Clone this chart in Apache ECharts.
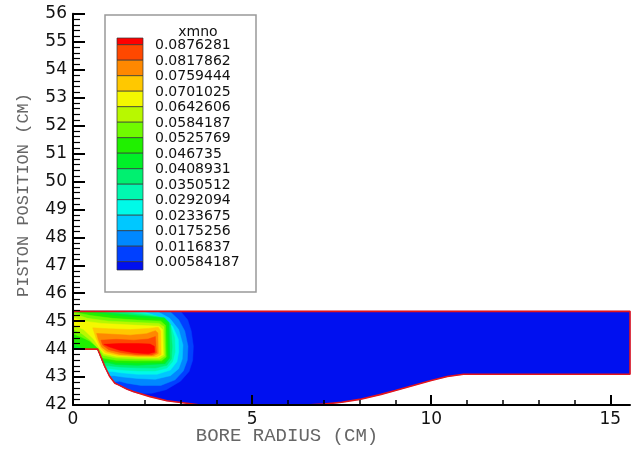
<!DOCTYPE html>
<html lang="en">
<head>
    <meta charset="UTF-8">
    <script src="https://cdn.jsdelivr.net/npm/echarts@6.0.0/dist/echarts.min.js"></script>
    <title>xmno</title>
    <style type="text/css">
        body { margin: 0; background: #fff; }
        #main { width: 640px; height: 449px; }
    </style>
</head>
<body>
<div id="main"></div>
<script type="text/javascript">
    // contour levels of xmno (legend, low -> high)
    const levels = [0.00584187, 0.0116837, 0.0175256, 0.0233675, 0.0292094, 0.0350512, 0.0408931,
        0.046735, 0.0525769, 0.0584187, 0.0642606, 0.0701025, 0.0759444, 0.0817862, 0.0876281];
    // band colours: below level 1 ... above level 15
    const bandColors = ['#0010f0', '#0040ff', '#0088ff', '#00c8ff', '#00fae8', '#00f8b0', '#00f070', '#00f028',
        '#20f000', '#70fa00', '#b8f800', '#f4f800', '#ffc800', '#ff8800', '#ff4800', '#ff0000'];

    const xMajor = [0, 5, 10, 15];
    const xMinor = [1, 2, 3, 4, 6, 7, 8, 9, 11, 12, 13, 14];

    // piston bowl outline (radius, position)
    const domain = [[0, 45.35], [15.55, 45.35], [15.55, 43.1], [10.9, 43.1], [10.45, 43.02], [10.0, 42.88],
        [9.5, 42.7], [9.0, 42.52], [8.6, 42.38], [8.0, 42.2], [7.5, 42.1], [7.0, 42.03], [6.5, 42.0],
        [3.55, 42.0], [3.18, 42.06], [2.62, 42.15], [2.15, 42.3], [1.68, 42.48], [1.5, 42.57], [1.27, 42.72],
        [1.17, 42.78], [1.03, 43.01], [0.89, 43.37], [0.69, 44], [0, 44]];

    // regions where xmno > level k
    const above1 = [[0, 45.35], [3.0, 45.35], [3.2, 45.05], [3.3, 44.65], [3.36, 44.1], [3.34, 43.6], [3.24, 43.2],
        [3.0, 42.85], [2.6, 42.55], [2.2, 42.42], [1.85, 42.415], [1.68, 42.48], [1.5, 42.57], [1.27, 42.72],
        [1.17, 42.78], [1.03, 43.01], [0.89, 43.37], [0.69, 44], [0, 44]];
    const above2 = [[0, 45.35], [2.7, 45.35], [2.95, 45.05], [3.12, 44.65], [3.21, 44.1], [3.19, 43.6], [3.08, 43.22],
        [2.85, 42.9], [2.45, 42.7], [1.9, 42.7], [1.5, 42.78], [1.3, 42.85], [1.14, 42.83], [1.03, 43.01],
        [0.89, 43.37], [0.69, 44], [0, 44]];
    const above3 = [[0, 45.35], [2.35, 45.35], [2.7, 45.1], [2.95, 44.7], [3.07, 44.15], [3.05, 43.65], [2.95, 43.3],
        [2.72, 43.05], [2.3, 42.92], [1.8, 42.95], [1.4, 43.0], [1.15, 43.05], [1.015, 43.05], [0.89, 43.37],
        [0.69, 44], [0, 44]];
    const above4 = [[0, 45.35], [1.95, 45.35], [2.45, 45.12], [2.78, 44.82], [2.94, 44.35], [2.95, 43.9], [2.9, 43.55],
        [2.72, 43.25], [2.35, 43.1], [1.8, 43.1], [1.35, 43.15], [1.1, 43.2], [0.956, 43.2], [0.89, 43.37],
        [0.69, 44], [0, 44]];
    const above5 = [[0, 45.35], [1.45, 45.35], [1.8, 45.31], [2.3, 45.2], [2.7, 44.95], [2.84, 44.4], [2.85, 43.9],
        [2.78, 43.55], [2.62, 43.32], [2.3, 43.22], [1.8, 43.22], [1.3, 43.26], [1.05, 43.3], [0.917, 43.3],
        [0.89, 43.37], [0.69, 44], [0, 44]];
    const above6 = [[0, 45.35], [1.0, 45.35], [1.5, 45.3], [1.8, 45.25], [2.4, 45.15], [2.72, 44.9], [2.77, 44.1],
        [2.75, 43.65], [2.62, 43.42], [2.3, 43.32], [1.8, 43.33], [1.3, 43.36], [1.0, 43.4], [0.88, 43.4],
        [0.69, 44], [0, 44]];
    const above7 = [[0, 45.35], [0.6, 45.35], [1.1, 45.28], [1.8, 45.19], [2.55, 45.12], [2.68, 44.95], [2.7, 43.68],
        [2.57, 43.48], [1.8, 43.42], [1.2, 43.45], [0.95, 43.52], [0.85, 43.5], [0.69, 44], [0, 44]];
    const above8 = [[0, 45.35], [0.25, 45.35], [0.7, 45.27], [1.2, 45.18], [1.8, 45.12], [2.5, 45.07], [2.62, 44.9],
        [2.65, 43.7], [2.52, 43.52], [1.8, 43.5], [1.2, 43.52], [0.9, 43.6], [0.8, 43.66], [0.69, 44],
        [0.35, 44.0], [0, 44.2]];
    const above9 = [[0, 45.33], [0.5, 45.2], [1.1, 45.1], [1.8, 45.04], [2.45, 45.0], [2.58, 44.85], [2.6, 43.72],
        [2.47, 43.58], [1.8, 43.58], [1.2, 43.6], [0.85, 43.68], [0.8, 43.72], [0.74, 43.9], [0.7, 44.04],
        [0.45, 44.3], [0.2, 44.45], [0, 44.55]];
    const above10 = [[0, 45.28], [0.4, 45.1], [1.0, 45.0], [1.8, 44.95], [2.4, 44.92], [2.54, 44.8], [2.56, 43.75],
        [2.42, 43.64], [1.8, 43.65], [1.2, 43.68], [0.84, 43.78], [0.74, 43.97], [0.5, 44.3], [0.25, 44.55],
        [0, 44.72]];
    const above11 = [[0, 45.12], [0.3, 45.0], [0.8, 44.92], [1.8, 44.85], [2.4, 44.82], [2.5, 44.7], [2.52, 43.8],
        [2.38, 43.7], [1.8, 43.71], [1.2, 43.74], [0.86, 43.84], [0.76, 44.0], [0.58, 44.35], [0.3, 44.7],
        [0, 44.86]];
    const above12 = [[0.55, 44.76], [1.0, 44.73], [1.6, 44.7], [2.1, 44.74], [2.38, 44.78], [2.45, 44.65],
        [2.46, 43.8], [2.32, 43.72], [1.8, 43.73], [1.25, 43.77], [0.9, 43.87], [0.77, 44.03], [0.64, 44.4]];
    const above13 = [[0.66, 44.56], [1.0, 44.54], [1.6, 44.5], [2.05, 44.55], [2.3, 44.66], [2.37, 44.58],
        [2.38, 43.84], [2.25, 43.76], [1.8, 43.76], [1.3, 43.81], [0.95, 43.92], [0.8, 44.07], [0.71, 44.33]];
    const above14 = [[0.78, 44.32], [1.2, 44.35], [1.7, 44.32], [2.1, 44.36], [2.3, 44.45], [2.33, 43.87],
        [2.2, 43.79], [1.8, 43.8], [1.35, 43.87], [1.0, 43.98], [0.83, 44.14]];
    const above15 = [[0.86, 44.17], [1.3, 44.2], [1.8, 44.2], [2.15, 44.18], [2.27, 44.1], [2.28, 43.89],
        [2.1, 43.83], [1.7, 43.87], [1.3, 43.96], [1.0, 44.08]];

    const shapes = [domain, above1, above2, above3, above4, above5, above6, above7, above8,
        above9, above10, above11, above12, above13, above14, above15];

    const myChart = echarts.init(document.getElementById('main'));

    // colour legend drawn as graphic elements
    const legendBox = [{
        type: 'rect', shape: {x: 105, y: 15, width: 151, height: 277},
        style: {fill: '#fff', stroke: '#999', lineWidth: 1.5}
    }, {
        type: 'text', x: 198, y: 32,
        style: {text: 'xmno', font: '14px "DejaVu Sans"', fill: '#111', align: 'center', verticalAlign: 'middle'}
    }];
    for (let j = 0; j < bandColors.length; j++) {
        const top = j === 0 ? 38 : 44.7 + (j - 1) * 15.5;
        const bottom = j === bandColors.length - 1 ? 270 : 44.7 + j * 15.5;
        legendBox.push({
            type: 'rect', shape: {x: 117, y: top, width: 26, height: bottom - top},
            style: {fill: bandColors[bandColors.length - 1 - j], stroke: '#333', lineWidth: 0.7}
        });
    }
    for (let k = 0; k < levels.length; k++) {
        legendBox.push({
            type: 'text', x: 155, y: 45.5 + k * 15.5,
            style: {text: String(levels[levels.length - 1 - k]), font: '14px "DejaVu Sans"', fill: '#111',
                align: 'left', verticalAlign: 'middle'}
        });
    }

    const option = {
        animation: false,
        backgroundColor: '#fff',
        grid: {left: 73, right: 10, top: 13.7, bottom: 44},
        xAxis: [{
            type: 'value', min: 0, max: 15.55, position: 'bottom', z: 10,
            axisLine: {lineStyle: {color: '#000', width: 2}},
            axisTick: {inside: true, length: 10, customValues: xMajor, lineStyle: {color: '#000', width: 2}},
            axisLabel: {customValues: xMajor, fontSize: 17, color: '#111', fontFamily: 'DejaVu Sans', margin: 6},
            splitLine: {show: false}
        }, {
            type: 'value', min: 0, max: 15.55, position: 'bottom', z: 10,
            axisLine: {show: false},
            axisTick: {inside: true, length: 5, customValues: xMinor, lineStyle: {color: '#000', width: 1.5}},
            axisLabel: {show: false},
            splitLine: {show: false}
        }],
        yAxis: {
            type: 'value', min: 42, max: 56, interval: 1, z: 10,
            axisLine: {show: true, lineStyle: {color: '#000', width: 2}},
            axisTick: {inside: true, length: 12, lineStyle: {color: '#000', width: 2}},
            minorTick: {show: true, splitNumber: 5, length: 7, lineStyle: {color: '#000', width: 1.2}},
            axisLabel: {fontSize: 17, color: '#111', fontFamily: 'DejaVu Sans', margin: 6},
            splitLine: {show: false},
            minorSplitLine: {show: false}
        },
        graphic: legendBox.concat([{
            type: 'text', x: 23.5, y: 195, rotation: Math.PI / 2,
            style: {text: 'PISTON POSITION (CM)', font: '17px "Liberation Mono"', fill: '#666',
                align: 'center', verticalAlign: 'middle'}
        }, {
            type: 'text', x: 287, y: 436,
            style: {text: 'BORE RADIUS (CM)', font: '19px "Liberation Mono"', fill: '#666',
                align: 'center', verticalAlign: 'middle'}
        }]),
        series: [{
            type: 'custom',
            xAxisIndex: 0,
            z: 2,
            data: shapes.map(function () { return [0, 42]; }),
            renderItem: function (params, api) {
                const i = params.dataIndex;
                const pts = shapes[i].map(function (p) { return api.coord(p); });
                return {
                    type: 'polygon',
                    shape: {points: pts},
                    style: {fill: bandColors[i], stroke: bandColors[i], lineWidth: 0.5}
                };
            }
        }, {
            type: 'line',
            xAxisIndex: 0,
            z: 3,
            data: domain.concat([domain[0]]),
            showSymbol: false,
            symbol: 'none',
            lineStyle: {color: '#e4141a', width: 1.6}
        }]
    };

    myChart.setOption(option);
</script>
</body>
</html>
